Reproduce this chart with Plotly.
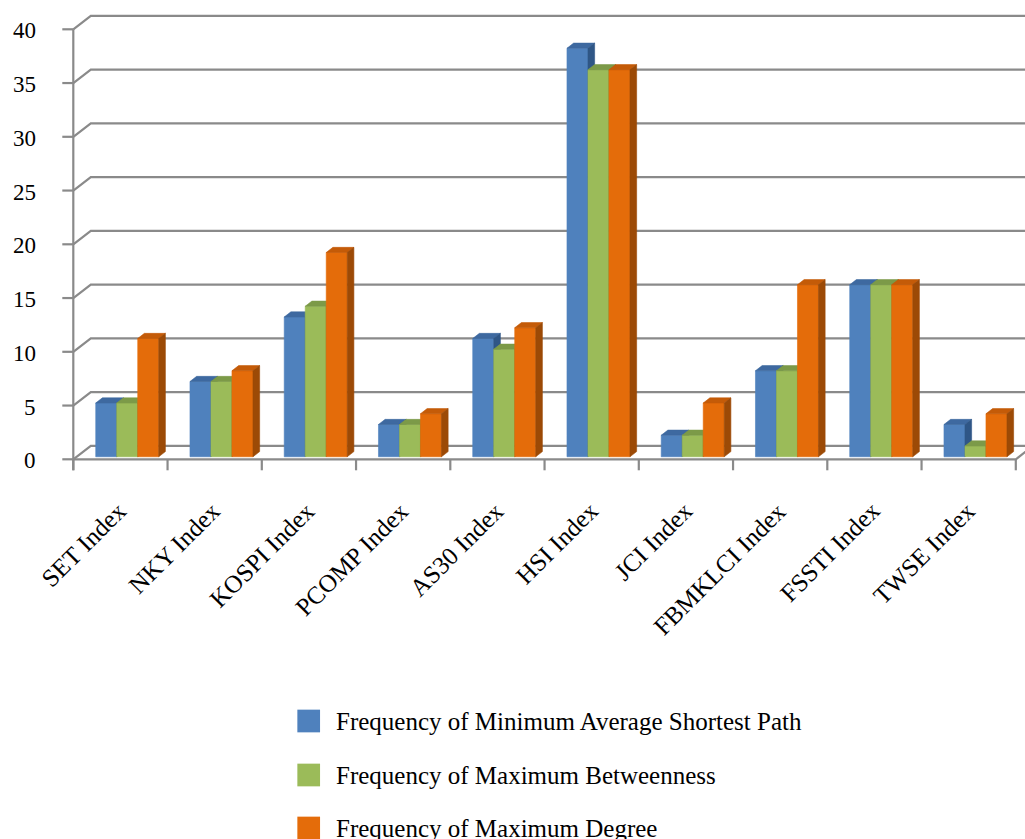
import plotly.graph_objects as go

# ---- data -------------------------------------------------------------
categories = ["SET Index", "NKY Index", "KOSPI Index", "PCOMP Index", "AS30 Index",
              "HSI Index", "JCI Index", "FBMKLCI Index", "FSSTI Index", "TWSE Index"]
min_avg_shortest_path = [5, 7, 13, 3, 11, 38, 2, 8, 16, 3]
max_betweenness = [5, 7, 14, 3, 10, 36, 2, 8, 16, 1]
max_degree = [11, 8, 19, 4, 12, 36, 5, 16, 16, 4]
series_names = ["Frequency of Minimum Average Shortest Path",
                "Frequency of Maximum Betweenness",
                "Frequency of Maximum Degree"]
y_ticks = [0, 5, 10, 15, 20, 25, 30, 35, 40]

series_values = [min_avg_shortest_path, max_betweenness, max_degree]

# ---- styling ------------------------------------------------------------
front_colors = ["#4F81BD", "#9BBB59", "#E46C0A"]
top_colors = ["#3E69A0", "#7C9A48", "#C45B08"]
side_colors = ["#2F5686", "#6A8738", "#9C4A06"]
grid_color = "#8A8A8A"
FONT = "Liberation Serif, Times New Roman, serif"

W, H = 1025, 839
# pixel scale of the front plane: one category = SX px, one unit = SY px
X0, SX = 73.3, 94.25
Y0, SY = 459.3, 10.75
# full depth of the 3-D box, in data units
DDX = 17.5 / SX
DDY = 13.5 / SY
# bars occupy this slice of the depth
F0, F1 = 0.19, 0.57
BAR_W = 21.0 / SX
GROUP_LEFT = 19.1 / SX


def px_x(p):
    return (p - X0) / SX


def px_h(p):
    return p / SY


n_cat = len(categories)
fig = go.Figure()

# ---- walls, floor and axis lines ---------------------------------------
gx, gy = [], []
for v in y_ticks:
    # side-wall diagonal then back-wall gridline
    gx += [0, DDX, n_cat + DDX, None]
    gy += [v, v + DDY, v + DDY, None]
    # tick mark on the front axis
    gx += [px_x(X0 - 11), 0, None]
    gy += [v, v, None]
# front vertical axis
gx += [0, 0, None]
gy += [y_ticks[-1], -px_h(11), None]
# front edge of the floor and its right-hand diagonal
gx += [0, n_cat, n_cat + DDX, None]
gy += [0, 0, DDY, None]
# category boundary ticks
for i in range(n_cat + 1):
    gx += [i, i, None]
    gy += [0, -px_h(11), None]

fig.add_trace(go.Scatter(x=gx, y=gy, mode="lines",
                         line=dict(color=grid_color, width=2.2),
                         hoverinfo="skip", showlegend=False))

# ---- 3-D columns ---------------------------------------------------------
dx = (F1 - F0) * DDX
dy = (F1 - F0) * DDY
for s, values in enumerate(series_values):
    fx, fy, tx, ty, sx_, sy_ = [], [], [], [], [], []
    for i, v in enumerate(values):
        xl = i + GROUP_LEFT + s * BAR_W + F0 * DDX
        xr = xl + BAR_W
        yb = F0 * DDY
        yt = v + F0 * DDY
        fx += [xl, xr, xr, xl, xl, None]
        fy += [yb, yb, yt, yt, yb, None]
        tx += [xl, xr, xr + dx, xl + dx, xl, None]
        ty += [yt, yt, yt + dy, yt + dy, yt, None]
        sx_ += [xr, xr + dx, xr + dx, xr, xr, None]
        sy_ += [yb, yb + dy, yt + dy, yt, yb, None]
    for xs, ys, col in ((fx, fy, front_colors[s]),
                        (tx, ty, top_colors[s]),
                        (sx_, sy_, side_colors[s])):
        fig.add_trace(go.Scatter(x=xs, y=ys, mode="lines", fill="toself",
                                 fillcolor=col, line=dict(color=col, width=0.6),
                                 name=series_names[s], hoverinfo="skip",
                                 showlegend=False))

# ---- tick labels -------------------------------------------------------
annotations = []
for v in y_ticks:
    annotations.append(dict(x=px_x(38), y=v + px_h(-1.5), xref="x", yref="y",
                            text=str(v), showarrow=False, xanchor="right",
                            yanchor="middle",
                            font=dict(family=FONT, size=23, color="#000000")))
for i, name in enumerate(categories):
    annotations.append(dict(x=i + 0.5 + 14 / SX, y=-px_h(494 - Y0),
                            xref="x", yref="y", text=name, showarrow=False,
                            textangle=-45, xanchor="right", yanchor="top",
                            font=dict(family=FONT, size=25, color="#000000")))

# ---- legend ----------------------------------------------------------------
legend_rows_px = [721, 775, 828]
for s, name in enumerate(series_names):
    ly = (Y0 - legend_rows_px[s]) / SY
    fig.add_trace(go.Scatter(x=[px_x(308.7)], y=[ly], mode="markers",
                             marker=dict(symbol="square", size=22.7,
                                         color=front_colors[s], line=dict(width=0)),
                             hoverinfo="skip", showlegend=False))
    annotations.append(dict(x=px_x(334), y=ly, xref="x", yref="y", text=name,
                            showarrow=False, xanchor="left", yanchor="middle",
                            font=dict(family=FONT, size=25, color="#000000")))

fig.update_layout(
    width=W, height=H,
    margin=dict(l=0, r=0, t=0, b=0),
    paper_bgcolor="white", plot_bgcolor="white",
    showlegend=False,
    annotations=annotations,
    xaxis=dict(range=[px_x(0), px_x(W)], visible=False, fixedrange=True),
    yaxis=dict(range=[(Y0 - H) / SY, Y0 / SY], visible=False, fixedrange=True),
)

fig.write_html("out.html")
